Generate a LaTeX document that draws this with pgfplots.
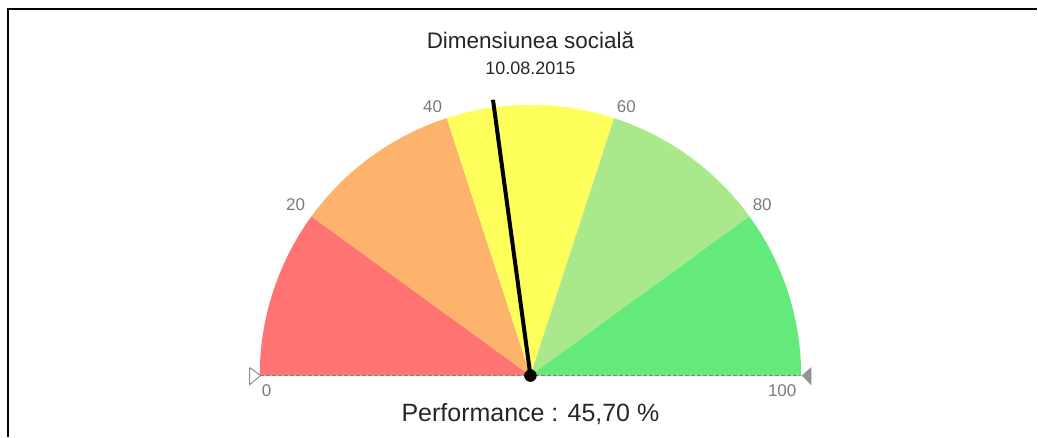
\documentclass[border=0pt]{standalone}
\usepackage{fontspec}
\setmainfont{Liberation Sans}
\usepackage{pgfplots}
\pgfplotsset{compat=1.18}
\definecolor{gred}{HTML}{FF7373}
\definecolor{gorange}{HTML}{FDB36B}
\definecolor{gyellow}{HTML}{FFFF5B}
\definecolor{glgreen}{HTML}{A9E98B}
\definecolor{ggreen}{HTML}{63EA7B}
\definecolor{ticktxt}{HTML}{7A7A7A}

\begin{document}
\begin{tikzpicture}
\begin{axis}[
  scale only axis,width=1038pt,height=437pt,
  xmin=-531,xmax=507,ymin=-61,ymax=376,
  hide axis,clip=false
]
\path (axis cs:-531,-61) rectangle (axis cs:507,376);
% bands: 0-20, 20-40, 40-60, 60-80, 80-100 (value v -> angle 180-1.8v)
\fill[gred]    (axis cs:0,0) -- (axis cs:{271*cos(180)},{271*sin(180)}) arc[start angle=180,end angle=144,radius=271pt] -- cycle;
\fill[gorange] (axis cs:0,0) -- (axis cs:{271*cos(144)},{271*sin(144)}) arc[start angle=144,end angle=108,radius=271pt] -- cycle;
\fill[gyellow] (axis cs:0,0) -- (axis cs:{271*cos(108)},{271*sin(108)}) arc[start angle=108,end angle=72,radius=271pt] -- cycle;
\fill[glgreen] (axis cs:0,0) -- (axis cs:{271*cos(72)},{271*sin(72)}) arc[start angle=72,end angle=36,radius=271pt] -- cycle;
\fill[ggreen]  (axis cs:0,0) -- (axis cs:{271*cos(36)},{271*sin(36)}) arc[start angle=36,end angle=0,radius=271pt] -- cycle;
% baseline
\addplot[gray,line width=1.3pt,dash pattern=on 4pt off 2pt] coordinates {(-271,0) (271,0)};
% end markers
\addplot[gray!90,fill=white,line width=1pt] coordinates {(-281,8) (-281,-9) (-270,0) (-281,8)};
\addplot[gray!85,fill=gray!85,line width=0.5pt] coordinates {(272,0) (281,8) (281,-9) (272,0)};
% needle at 45.70
\addplot[black,line width=4pt] coordinates {(0,0) (-37.5,276.1)};
\addplot[only marks,mark=*,mark size=6pt,black] coordinates {(0,0)};
% tick labels
\begin{scope}[every node/.style={text=ticktxt,font=\fontsize{17}{20}\selectfont}]
\node at (axis cs:-264,-15) {0};
\node at (axis cs:-235,171) {20};
\node at (axis cs:-98,269) {40};
\node at (axis cs:96,269) {60};
\node at (axis cs:232,171) {80};
\node at (axis cs:252,-15) {100};
\end{scope}
% titles
\node[text=black!85,font=\fontsize{22.5}{26}\selectfont] at (axis cs:0,336) {Dimensiunea socială};
\node[text=black!85,font=\fontsize{18}{22}\selectfont] at (axis cs:0,308) {10.08.2015};
\node[text=black!85,font=\fontsize{25}{30}\selectfont] at (axis cs:0,-39) {Performance : 45,70 \%};
% frame
\draw[black,line width=2.2pt] (axis cs:-523,-61) -- (axis cs:-523,367) -- (axis cs:507,367);
\end{axis}
\end{tikzpicture}
\end{document}
